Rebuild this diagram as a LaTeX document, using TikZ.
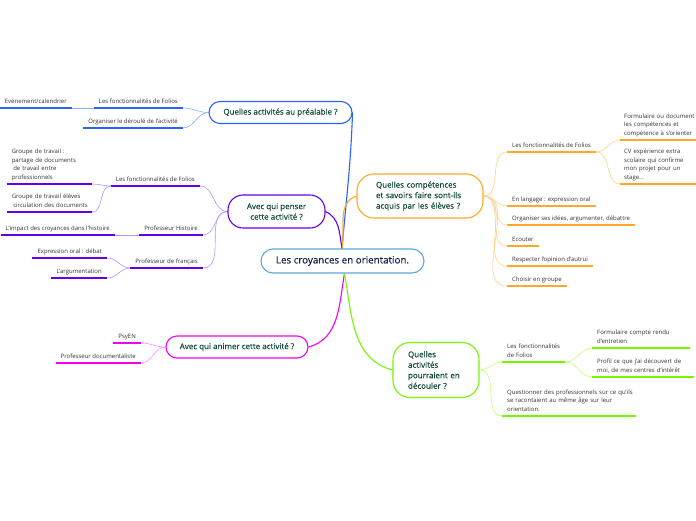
\documentclass[tikz,border=0pt]{standalone}
\usepackage{fontspec}
\setmainfont{Open Sans}
\newfontfamily\censemi[FakeBold=0.5]{Open Sans}
\newfontfamily\topsemi[FakeBold=0.3]{Open Sans}
\usetikzlibrary{backgrounds}
\definecolor{cblue}{HTML}{2962FF}
\definecolor{cbluel}{HTML}{8AAEFF}
\definecolor{cpurp}{HTML}{6200EA}
\definecolor{cpurpl}{HTML}{B594FF}
\definecolor{cmag}{HTML}{F200F2}
\definecolor{cmagl}{HTML}{FF8AFF}
\definecolor{corg}{HTML}{FFA726}
\definecolor{corgl}{HTML}{FFD08A}
\definecolor{cgrn}{HTML}{76F500}
\definecolor{cgrnl}{HTML}{BDFF70}
\definecolor{ccen}{HTML}{5BA8DD}
\definecolor{tgreen}{HTML}{0F4A3A}
\definecolor{tnavy}{HTML}{14264F}
\definecolor{leafgray}{HTML}{333333}
\newcommand\myline[1]{\mbox{#1}}
\begin{document}
\begin{tikzpicture}[x=1pt,y=1pt,
 topic/.style={draw, fill=white, line width=1.1pt, rounded corners=11pt, text=tgreen,
   font=\topsemi\fontsize{8}{10.5}\selectfont, inner sep=0pt},
 leaf/.style={inner xsep=5pt, inner ysep=3.3pt, font=\fontsize{6}{8.5}\selectfont,
   text=leafgray, align=left, execute at end node={\vphantom{gp}}},
 leafL/.style={leaf, anchor=south east},
 leafR/.style={leaf, anchor=south west},
 main/.style={line width=1.1pt},
 sub/.style={line width=0.6pt},
 ul/.style={line width=1.4pt},
]
\useasboundingbox (0,0) rectangle (696,-520);

% central and main topics
\node[topic, draw=ccen, text=tnavy, font=\censemi\fontsize{9.8}{12}\selectfont,
  minimum width=163pt, minimum height=24pt, rounded corners=12pt] (c) at (342.5,-261) {Les croyances en orientation.};
\node[topic, draw=cblue, minimum width=143pt, minimum height=22pt] (t1) at (280.5,-112.5) {Quelles activités au préalable ?};
\node[topic, draw=cpurp, minimum width=97pt, minimum height=33pt, align=center, rounded corners=15pt] (t2) at (276.5,-211.5) {Avec qui penser\\cette activité ?};
\node[topic, draw=cmag, minimum width=142pt, minimum height=22pt] (t3) at (237,-347) {Avec qui animer cette activité ?};
\node[topic, draw=corg, text width=88pt, inner xsep=19pt, minimum height=44pt, align=left, rounded corners=17pt] (t4) at (420,-196) {\myline{Quelles compétences}\\\myline{et savoirs faire sont-ils}\\\myline{acquis par les élèves ?}};
\node[topic, draw=cgrn, text width=56pt, inner xsep=15pt, minimum height=55pt, align=left, rounded corners=17pt] (t5) at (436,-370) {Quelles\\activités\\\myline{pourraient en}\\découler ?};

% topic 1 leaves
\node[leafL] (a1) at (183,-108) {Les fonctionnalités de Folios};
\node[leafL] (a2) at (183,-128) {Organiser le déroulé de l'activité};
\node[leafL] (a11) at (72,-108) {Evénement/calendrier};

% topic 2 leaves
\node[leafL] (b1) at (200,-186) {Les fonctionnalités de Folios};
\node[leafL, text width=75pt] (b11) at (92,-184) {\myline{Groupe de travail :}\\\myline{partage de documents}\\\myline{\hspace*{1.5pt}de travail entre}\\\myline{professionnels}};
\node[leafL, text width=75pt] (b12) at (92,-212) {\myline{Groupe de travail élèves}\\\myline{\hspace*{1.5pt}circulation des documents}};
\node[leafL] (b2) at (203,-235) {Professeur Histoire};
\node[leafL] (b21) at (115,-235) {L'impact des croyances dans l'histoire};
\node[leafL] (b3) at (203,-268) {Professeur de français};
\node[leafL] (b31) at (107,-258) {Expression oral : débat};
\node[leafL] (b32) at (107,-278) {L'argumentation};

% topic 3 leaves
\node[leafL] (m1) at (141,-343) {PsyEN};
\node[leafL] (m2) at (141,-363) {Professeur documentaliste};

% topic 4 leaves
\node[leafR] (o1) at (507,-152) {Les fonctionnalités de Folios};
\node[leafR, text width=68pt, inner xsep=4pt] (o11) at (620,-140) {\myline{Formulaire ou document}\\\myline{les compétences et}\\\myline{compétence à s'orienter}};
\node[leafR, text width=68pt, inner xsep=4pt] (o12) at (620,-184) {\myline{CV expérience extra}\\\myline{scolaire qui confirme}\\\myline{mon projet pour un}\\\myline{stage...}};
\node[leafR] (o2) at (507,-206) {En langage : expression oral};
\node[leafR] (o3) at (507,-225) {Organiser ses idées, argumenter, débattre};
\node[leafR] (o4) at (507,-246) {Ecouter};
\node[leafR] (o5) at (507,-266) {Respecter l'opinion d'autrui};
\node[leafR] (o6) at (507,-286) {Choisir en groupe};

% topic 5 leaves
\node[leafR, text width=53pt] (g1) at (502,-362) {\myline{Les fonctionnalités}\\\myline{de Folios}};
\node[leafR, text width=88pt] (g11) at (592,-348) {\myline{Formulaire compte rendu}\\\myline{d'entretien}};
\node[leafR, text width=92pt] (g12) at (592,-377) {\myline{Profil ce que j'ai découvert de}\\\myline{moi, de mes centres d'intérêt}};
\node[leafR, text width=124pt] (g2) at (502,-416) {\myline{Questionner des professionnels sur ce qu'ils}\\\myline{se racontaient au même âge sur leur}\\\myline{orientation.}};

% underlines
\foreach \n in {a1,a2,a11} \draw[ul,cblue] (\n.south west) -- (\n.south east);
\foreach \n in {b1,b11,b12,b2,b21,b3,b31,b32} \draw[ul,cpurp] (\n.south west) -- (\n.south east);
\foreach \n in {m1,m2} \draw[ul,cmag] (\n.south west) -- (\n.south east);
\foreach \n in {o1,o11,o12,o2,o3,o4,o5,o6} \draw[ul,corg] (\n.south west) -- (\n.south east);
\foreach \n in {g1,g11,g12,g2} \draw[ul,cgrn] (\n.south west) -- (\n.south east);

\begin{scope}[on background layer]
\fill[white] (0,0) rectangle (696,-520);
% main connectors
\draw[main,cblue] ([xshift=-0.5pt]c.north) to[out=85,in=-92] (t1.east);
\draw[main,cpurp] ([xshift=-0.5pt]c.north) to[out=100,in=-25] (t2.east);
\draw[main,corg] ([xshift=-0.5pt]c.north) to[out=80,in=200] (t4.west);
\draw[main,cmag] ([xshift=2pt]c.south) to[out=-100,in=15] (t3.east);
\draw[main,cgrn] ([xshift=2pt]c.south) to[out=-80,in=165] (t5.west);
% topic 1
\draw[sub,cbluel] (t1.west) to[out=180,in=0] (a1.south east);
\draw[sub,cbluel] (t1.west) to[out=180,in=0] (a2.south east);
\draw[sub,cbluel] (a1.south west) -- (a11.south east);
% topic 2
\foreach \n in {b1,b2,b3} \draw[sub,cpurpl] (t2.west) to[out=180,in=0] (\n.south east);
\foreach \n in {b11,b12} \draw[sub,cpurpl] (b1.south west) to[out=180,in=0] (\n.south east);
\draw[sub,cpurpl] (b2.south west) -- (b21.south east);
\foreach \n in {b31,b32} \draw[sub,cpurpl] (b3.south west) to[out=180,in=0] (\n.south east);
% topic 3
\foreach \n in {m1,m2} \draw[sub,cmagl] (t3.west) to[out=180,in=0] (\n.south east);
% topic 4
\foreach \n in {o1,o2,o3,o4,o5,o6} \draw[sub,corgl] (t4.east) to[out=0,in=180] (\n.south west);
\foreach \n in {o11,o12} \draw[sub,corgl] (o1.south east) to[out=0,in=180] (\n.south west);
% topic 5
\foreach \n in {g1,g2} \draw[sub,cgrnl] (t5.east) to[out=0,in=180] (\n.south west);
\foreach \n in {g11,g12} \draw[sub,cgrnl] (g1.south east) to[out=0,in=180] (\n.south west);
\end{scope}
\end{tikzpicture}
\end{document}
